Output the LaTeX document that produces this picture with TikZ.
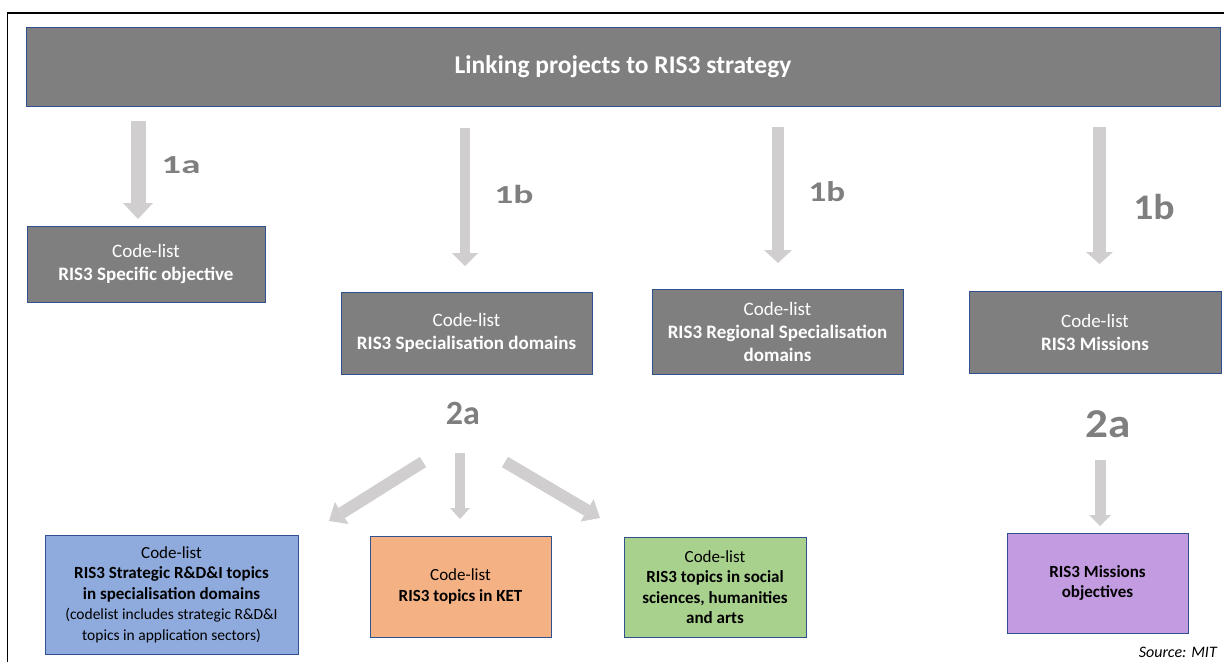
\documentclass[tikz,border=0pt]{standalone}
\usepackage{fontspec}
\usepackage{graphicx}
\setmainfont{Carlito}
\usetikzlibrary{arrows.meta}

\definecolor{boxgray}{HTML}{7F7F7F}
\definecolor{edgeblue}{HTML}{2F528F}
\definecolor{arrowgray}{HTML}{D0CECE}
\definecolor{numgray}{HTML}{7F7F7F}
\definecolor{stratblue}{HTML}{8FAADC}
\definecolor{ketorange}{HTML}{F4B183}
\definecolor{socgreen}{HTML}{A9D18E}
\definecolor{misspurple}{HTML}{C39BE0}

\newcommand{\stepnum}[2]{\scalebox{#1}[1]{#2}}

\begin{document}
\begin{tikzpicture}[x=1pt,y=-1pt,
	codebox/.style={draw=edgeblue, line width=0.9pt, fill=boxgray, text=white, align=center, inner sep=0pt, font=\fontsize{19}{23}\selectfont},
	topicbox/.style={codebox, text=black, font=\fontsize{17}{20.5}\selectfont},
	numlabel/.style={text=numgray, inner sep=0pt, font=\bfseries\fontsize{#1}{#1}\selectfont},
	fatarrow/.style args={#1/#2/#3}{draw=arrowgray, line width=#1, -{Triangle[width=#2, length=#3, line width=0pt]}}]
	\useasboundingbox (0,0) rectangle (1224,662);
	\draw[line width=1.4pt] (7.5,662) -- (7.5,13) -- (1224,13);
	
	\node[codebox, font=\bfseries\fontsize{25.5}{29}\selectfont, minimum width=1194pt, minimum height=79pt] (banner) at (623,66.5) {Linking projects to RIS3 strategy};
	
	% first row of code-lists
	\node[codebox, minimum width=238pt, minimum height=76pt] (objbox) at (146,264) {Code-list\\\textbf{RIS3 Specific objective}};
	\node[codebox, minimum width=251pt, minimum height=82pt] (specbox) at (466.5,333) {Code-list\\\textbf{RIS3 Specialisation domains}};
	\node[codebox, minimum width=251pt, minimum height=85pt] (regbox) at (777.5,331.5) {Code-list\\\textbf{RIS3 Regional Specialisation}\\\textbf{domains}};
	\node[codebox, minimum width=252pt, minimum height=82pt] (missbox) at (1095,332) {Code-list\\\textbf{RIS3 Missions}};
	
	% second row
	\node[topicbox, fill=stratblue, minimum width=253pt, minimum height=119pt] (stratbox) at (171.5,594.5) {Code-list\\\textbf{RIS3 Strategic R\&D\&I topics}\\\textbf{in specialisation domains}\\{\fontsize{15.5}{20}\selectfont(codelist includes strategic R\&D\&I}\\{\fontsize{15.5}{20}\selectfont topics in application sectors)}};
	\node[topicbox, fill=ketorange, minimum width=181pt, minimum height=101pt] (ketbox) at (460.5,586.5) {Code-list\\\textbf{RIS3 topics in KET}};
	\node[topicbox, fill=socgreen, minimum width=182pt, minimum height=100pt] (socbox) at (715,587) {Code-list\\\textbf{RIS3 topics in social}\\\textbf{sciences, humanities}\\\textbf{and arts}};
	\node[topicbox, fill=misspurple, minimum width=181pt, minimum height=100pt] (objmbox) at (1097.5,583) {\textbf{RIS3 Missions}\\\textbf{objectives}};
	
	% arrow ends
	\coordinate (a1s) at (138,121);   \coordinate (a1e) at (138,219);
	\coordinate (b1s) at (465,128);   \coordinate (b1e) at (465,266);
	\coordinate (b2s) at (778,127);   \coordinate (b2e) at (778,263);
	\coordinate (b3s) at (1099.5,127); \coordinate (b3e) at (1099.5,264);
	\coordinate (c1s) at (423,462);   \coordinate (c1e) at (329,521);
	\coordinate (c2s) at (460,453);   \coordinate (c2e) at (460,519);
	\coordinate (c3s) at (505,462);   \coordinate (c3e) at (600,518);
	\coordinate (c4s) at (1100,460);  \coordinate (c4e) at (1100,526);
	
	\draw[fatarrow=15pt/30pt/16pt] (a1s) -- (a1e);
	\draw[fatarrow=10pt/26pt/13pt] (b1s) -- (b1e);
	\draw[fatarrow=12.5pt/28pt/13pt] (b2s) -- (b2e);
	\draw[fatarrow=13pt/27pt/12pt] (b3s) -- (b3e);
	\draw[fatarrow=12pt/26pt/15pt] (c1s) -- (c1e);
	\draw[fatarrow=10pt/20pt/11pt] (c2s) -- (c2e);
	\draw[fatarrow=12pt/26pt/15pt] (c3s) -- (c3e);
	\draw[fatarrow=11pt/22pt/11pt] (c4s) -- (c4e);
	
	\node[numlabel=26] (n1a) at (181,165) {\stepnum{1.5}{1a}};
	\node[numlabel=26] (n1b) at (514,194) {\stepnum{1.44}{1b}};
	\node[numlabel=28.5] (n1c) at (827,192) {\stepnum{1.23}{1b}};
	\node[numlabel=36] (n1d) at (1154,207) {\stepnum{1.1}{1b}};
	\node[numlabel=34] (n2a) at (463,413) {2a};
	\node[numlabel=41] (n2b) at (1108,424) {\stepnum{1.1}{2a}};
	
	\node[anchor=north east, inner sep=0pt, font=\itshape\fontsize{16}{16}\selectfont] (src) at (1217,647) {Source: MIT};
\end{tikzpicture}
\end{document}
